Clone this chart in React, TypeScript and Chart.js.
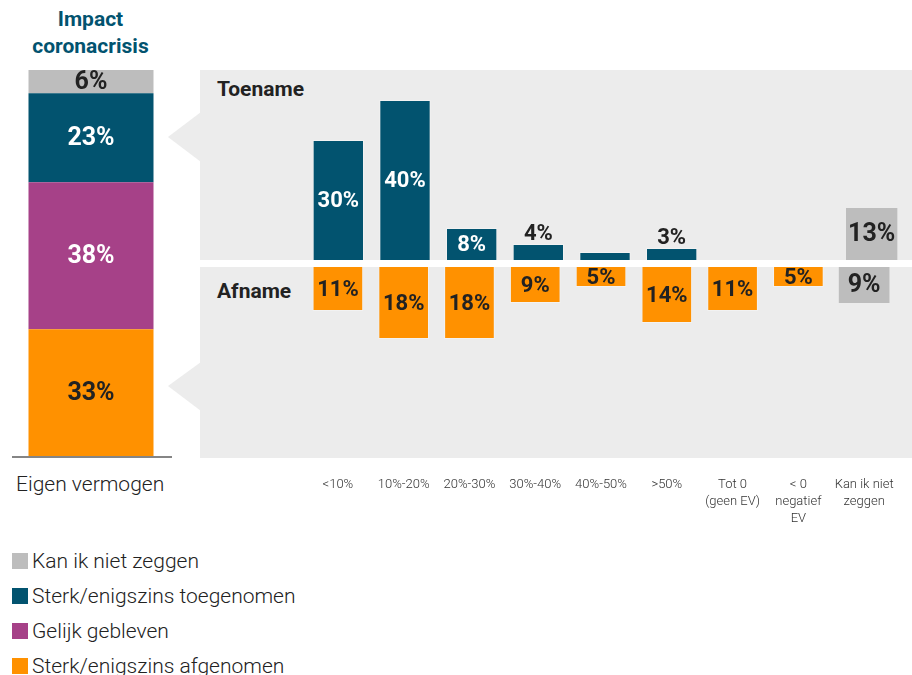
import React, { useEffect, useRef } from "react";
import { Chart, registerables } from "chart.js";

Chart.register(...registerables);

// ---- data ----
const categories: string[][] = [
  ["<10%"],
  ["10%-20%"],
  ["20%-30%"],
  ["30%-40%"],
  ["40%-50%"],
  [">50%"],
  ["Tot 0", "(geen EV)"],
  ["< 0", "negatief", "EV"],
  ["Kan ik niet", "zeggen"],
];
const toename = [30, 40, 8, 4, 2, 3, null, null, null];
const toenameOnbekend = [null, null, null, null, null, null, null, null, 13];
const afname = [11, 18, 18, 9, 5, 14, 11, 5, null];
const afnameOnbekend = [null, null, null, null, null, null, null, null, 9];

const impactSeries = [
  "Sterk/enigszins afgenomen",
  "Gelijk gebleven",
  "Sterk/enigszins toegenomen",
  "Kan ik niet zeggen",
];
const impactValues = [33, 38, 23, 6];
const impactCategory = ["Eigen vermogen"];

// ---- style ----
const TEAL = "#02536f";
const PURPLE = "#a64188";
const ORANGE = "#ff9100";
const GRAY = "#bdbdbd";
const PANEL = "#ececec";
const DARK = "#222222";
const impactColors = [ORANGE, PURPLE, TEAL, GRAY];
const impactLabelColors = [DARK, "#ffffff", "#ffffff", DARK];

const FONT = "Roboto, 'Noto Sans', sans-serif";

const barLabelPlugin = {
  id: "barLabels",
  afterDatasetsDraw(chart: any) {
    const ctx = chart.ctx;
    ctx.save();
    ctx.textAlign = "center";
    ctx.textBaseline = "middle";
    chart.data.datasets.forEach((ds: any, di: number) => {
      const meta = chart.getDatasetMeta(di);
      ctx.font = `bold ${ds.labelSize}px ${FONT}`;
      meta.data.forEach((el: any, i: number) => {
        const v = ds.data[i];
        if (v == null || v < 3) return;
        const { x, y, base } = el.getProps(["x", "y", "base"], true);
        const h = Math.abs(base - y);
        if (h >= 18) {
          ctx.fillStyle = ds.labelColor;
          ctx.fillText(v + "%", x, (y + base) / 2 + 1);
        } else {
          ctx.fillStyle = DARK;
          ctx.fillText(v + "%", x, y - 10);
        }
      });
    });
    ctx.restore();
  },
};

const stackLabelPlugin = {
  id: "stackLabels",
  afterDatasetsDraw(chart: any) {
    const ctx = chart.ctx;
    ctx.save();
    ctx.font = `bold 25px ${FONT}`;
    ctx.textAlign = "center";
    ctx.textBaseline = "middle";
    chart.data.datasets.forEach((ds: any, di: number) => {
      const meta = chart.getDatasetMeta(di);
      meta.data.forEach((el: any, i: number) => {
        const v = ds.data[i];
        const { x, y, base } = el.getProps(["x", "y", "base"], true);
        ctx.fillStyle = ds.labelColor;
        ctx.fillText(v + "%", x, (y + base) / 2 + 1);
      });
    });
    // baseline
    const a = chart.chartArea;
    ctx.strokeStyle = "#858585";
    ctx.lineWidth = 2;
    ctx.beginPath();
    ctx.moveTo(a.left + 2, a.bottom);
    ctx.lineTo(a.right, a.bottom);
    ctx.stroke();
    ctx.restore();
  },
};

function useChart(ref: React.RefObject<HTMLCanvasElement>, make: () => any) {
  useEffect(() => {
    if (!ref.current) return;
    const chart = new Chart(ref.current, make());
    return () => chart.destroy();
  }, []);
}

const BORDER = "rgba(255,255,255,0.35)";

export default function App() {
  const leftRef = useRef<HTMLCanvasElement>(null);
  const topRef = useRef<HTMLCanvasElement>(null);
  const botRef = useRef<HTMLCanvasElement>(null);

  useChart(leftRef, () => ({
    type: "bar",
    data: {
      labels: impactCategory,
      datasets: impactSeries.map((name, i) => ({
        label: name,
        data: [impactValues[i]],
        backgroundColor: impactColors[i],
        labelColor: impactLabelColors[i],
        borderWidth: 0,
        barPercentage: 125 / 162,
        categoryPercentage: 1,
      })),
    },
    options: {
      animation: false,
      responsive: false,
      layout: { padding: { left: 0, right: 0, top: 0, bottom: 3 } },
      plugins: { legend: { display: false }, tooltip: { enabled: false } },
      scales: {
        x: { display: false, stacked: true },
        y: { display: false, stacked: true, min: 0, max: 100 },
      },
    },
    plugins: [stackLabelPlugin],
  }));

  useChart(topRef, () => ({
    type: "bar",
    data: {
      labels: categories,
      datasets: [
        {
          label: "Toename",
          data: toename,
          backgroundColor: TEAL,
          borderColor: BORDER,
          borderWidth: 1,
          labelColor: "#ffffff",
          labelSize: 22,
          barPercentage: 0.77,
          categoryPercentage: 1,
        },
        {
          label: "Kan ik niet zeggen",
          data: toenameOnbekend,
          backgroundColor: GRAY,
          borderWidth: 0,
          labelColor: DARK,
          labelSize: 25,
          barPercentage: 0.77,
          categoryPercentage: 1,
        },
      ],
    },
    options: {
      animation: false,
      responsive: false,
      layout: { padding: { left: 105, right: 7, top: 0, bottom: 0 } },
      plugins: { legend: { display: false }, tooltip: { enabled: false } },
      scales: {
        x: { display: false, stacked: true },
        y: { display: false, stacked: true, min: 0, max: 47.5 },
      },
    },
    plugins: [barLabelPlugin],
  }));

  useChart(botRef, () => ({
    type: "bar",
    data: {
      labels: categories,
      datasets: [
        {
          label: "Afname",
          data: afname,
          backgroundColor: ORANGE,
          borderColor: BORDER,
          borderWidth: 1,
          labelColor: DARK,
          labelSize: 22,
          barPercentage: 0.77,
          categoryPercentage: 1,
        },
        {
          label: "Kan ik niet zeggen",
          data: afnameOnbekend,
          backgroundColor: GRAY,
          borderWidth: 0,
          labelColor: DARK,
          labelSize: 25,
          barPercentage: 0.77,
          categoryPercentage: 1,
        },
      ],
    },
    options: {
      animation: false,
      responsive: false,
      layout: { padding: { left: 105, right: 7, top: 0, bottom: 0 } },
      plugins: { legend: { display: false }, tooltip: { enabled: false } },
      scales: {
        x: {
          display: true,
          stacked: true,
          grid: { display: false, drawTicks: false },
          border: { display: false },
          ticks: {
            padding: 18,
            autoSkip: false,
            maxRotation: 0,
            color: "#333333",
            font: { family: FONT, size: 13, weight: "300", lineHeight: 1.3 },
          },
          afterFit: (scale: any) => {
            scale.height = 72;
          },
        },
        y: { display: false, stacked: true, reverse: true, min: 0, max: 47.75 },
      },
    },
    plugins: [barLabelPlugin],
  }));

  const legendItems = [...impactSeries].reverse().map((name) => ({
    name,
    color: impactColors[impactSeries.indexOf(name)],
  }));

  const abs = (o: React.CSSProperties): React.CSSProperties => ({ position: "absolute", ...o });

  return (
    <div style={abs({ left: 0, top: 0, width: 912, height: 675, background: "#fff", overflow: "hidden", fontFamily: FONT })}>
      {/* title */}
      <div
        style={abs({
          left: 0,
          top: 6,
          width: 181,
          textAlign: "center",
          color: TEAL,
          fontWeight: 700,
          fontSize: 21,
          lineHeight: "27px",
        })}
      >
        Impact
        <br />
        coronacrisis
      </div>

      {/* panel background */}
      <div style={abs({ left: 200, top: 70, width: 712, height: 388, background: PANEL })} />
      <div style={abs({ left: 200, top: 260, width: 712, height: 7, background: "#fff" })} />
      <svg style={abs({ left: 160, top: 100, overflow: "visible" })} width={50} height={320}>
        <polygon points="41,12 8,37 41,62" fill={PANEL} />
        <polygon points="41,262 8,286 41,311" fill={PANEL} />
      </svg>

      {/* panel titles */}
      <div style={abs({ left: 217, top: 76, fontWeight: 700, fontSize: 21, color: DARK, lineHeight: "26px" })}>Toename</div>
      <div style={abs({ left: 217, top: 278, fontWeight: 700, fontSize: 21, color: DARK, lineHeight: "26px" })}>Afname</div>

      <canvas ref={leftRef} width={162} height={390} style={abs({ left: 10, top: 70 })} />
      <canvas ref={topRef} width={712} height={190} style={abs({ left: 200, top: 70 })} />
      <canvas ref={botRef} width={712} height={263} style={abs({ left: 200, top: 267 })} />

      <div style={abs({ left: 16, top: 470, fontSize: 21, fontWeight: 300, color: DARK, lineHeight: "28px" })}>
        {impactCategory[0]}
      </div>

      {/* legend */}
      {legendItems.map((it, i) => (
        <div key={it.name} style={abs({ left: 12, top: 547 + i * 35, height: 28, display: "flex", alignItems: "center" })}>
          <span style={{ width: 16, height: 16, background: it.color, display: "inline-block", marginRight: 4 }} />
          <span style={{ fontSize: 21, fontWeight: 300, color: DARK, lineHeight: "28px" }}>{it.name}</span>
        </div>
      ))}
    </div>
  );
}
